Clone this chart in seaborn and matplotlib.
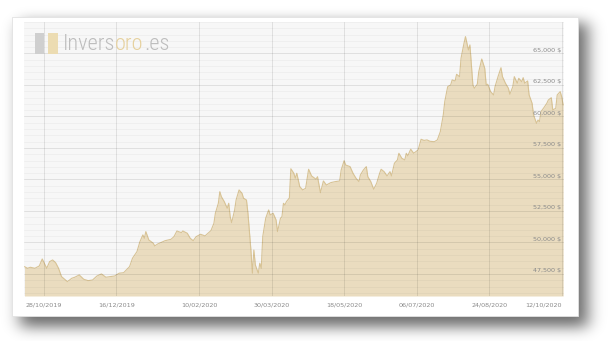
import math
import matplotlib
matplotlib.use("Agg")
import matplotlib.pyplot as plt
from matplotlib.patches import Rectangle
from matplotlib.ticker import MultipleLocator
from matplotlib import font_manager
from matplotlib.text import Annotation
import seaborn as sns
import pandas as pd
import numpy as np

# ---------------- data ----------------
dates = [
    "2019-10-15", "2019-10-17", "2019-10-19", "2019-10-22", "2019-10-25", "2019-10-27",
    "2019-10-30", "2019-11-01", "2019-11-03", "2019-11-05", "2019-11-07", "2019-11-09",
    "2019-11-13", "2019-11-16", "2019-11-18", "2019-11-21", "2019-11-24", "2019-11-27",
    "2019-11-30", "2019-12-03", "2019-12-06", "2019-12-09", "2019-12-12", "2019-12-15",
    "2019-12-18", "2019-12-21", "2019-12-25", "2019-12-27", "2019-12-30", "2020-01-01",
    "2020-01-03", "2020-01-04", "2020-01-05", "2020-01-07", "2020-01-10", "2020-01-11",
    "2020-01-13", "2020-01-15", "2020-01-18", "2020-01-22", "2020-01-24", "2020-01-26",
    "2020-01-29", "2020-01-30", "2020-02-02", "2020-02-04", "2020-02-06", "2020-02-08",
    "2020-02-11", "2020-02-14", "2020-02-16", "2020-02-18", "2020-02-20", "2020-02-21",
    "2020-02-23", "2020-02-24", "2020-02-25", "2020-02-27", "2020-02-29", "2020-03-01",
    "2020-03-02", "2020-03-03", "2020-03-05", "2020-03-06", "2020-03-08", "2020-03-10",
    "2020-03-11", "2020-03-13", "2020-03-14", "2020-03-15", "2020-03-16", "2020-03-17",
    "2020-03-18", "2020-03-19", "2020-03-21", "2020-03-22", "2020-03-23", "2020-03-24",
    "2020-03-26", "2020-03-28", "2020-03-29", "2020-03-31", "2020-04-02", "2020-04-03",
    "2020-04-05", "2020-04-06", "2020-04-07", "2020-04-08", "2020-04-09", "2020-04-11",
    "2020-04-12", "2020-04-14", "2020-04-15", "2020-04-16", "2020-04-18", "2020-04-20",
    "2020-04-22", "2020-04-24", "2020-04-26", "2020-04-29", "2020-04-30", "2020-05-02",
    "2020-05-04", "2020-05-06", "2020-05-09", "2020-05-12", "2020-05-15", "2020-05-16",
    "2020-05-18", "2020-05-19", "2020-05-22", "2020-05-24", "2020-05-26", "2020-05-28",
    "2020-05-29", "2020-05-31", "2020-06-02", "2020-06-03", "2020-06-05", "2020-06-07",
    "2020-06-09", "2020-06-11", "2020-06-12", "2020-06-14", "2020-06-16", "2020-06-18",
    "2020-06-19", "2020-06-21", "2020-06-23", "2020-06-24", "2020-06-26", "2020-06-28",
    "2020-06-29", "2020-06-30", "2020-07-02", "2020-07-04", "2020-07-07", "2020-07-09",
    "2020-07-11", "2020-07-13", "2020-07-15", "2020-07-18", "2020-07-20", "2020-07-22",
    "2020-07-24", "2020-07-25", "2020-07-27", "2020-07-29", "2020-07-30", "2020-08-01",
    "2020-08-02", "2020-08-04", "2020-08-05", "2020-08-07", "2020-08-08", "2020-08-09",
    "2020-08-10", "2020-08-11", "2020-08-13", "2020-08-14", "2020-08-16", "2020-08-17",
    "2020-08-19", "2020-08-21", "2020-08-22", "2020-08-23", "2020-08-25", "2020-08-27",
    "2020-08-28", "2020-08-30", "2020-09-01", "2020-09-02", "2020-09-04", "2020-09-06",
    "2020-09-07", "2020-09-09", "2020-09-10", "2020-09-12", "2020-09-13", "2020-09-15",
    "2020-09-16", "2020-09-17", "2020-09-19", "2020-09-20", "2020-09-22", "2020-09-23",
    "2020-09-25", "2020-09-26", "2020-09-27", "2020-09-28", "2020-09-30", "2020-10-02",
    "2020-10-03", "2020-10-05", "2020-10-06", "2020-10-08", "2020-10-09", "2020-10-11",
    "2020-10-12", "2020-10-13",
]
prices = [
    48080, 47950, 48030, 47950, 48135, 48690,
    47950, 48480, 48610, 48400, 47950, 47290,
    46890, 47160, 47240, 47420, 47080, 46970,
    47020, 47340, 47500, 47240, 47290, 47340,
    47560, 47600, 48080, 48750, 49270, 50060,
    50600, 50330, 50860, 50200, 49940, 49720,
    49880, 49980, 50140, 50250, 50460, 50910,
    50780, 50910, 50730, 50330, 50140, 50460,
    50650, 50520, 50730, 50940, 51520, 52320,
    53110, 54030, 53640, 53240, 52710, 53110,
    52050, 51570, 52580, 53370, 54170, 53900,
    53510, 53370, 52320, 50860, 49400, 47560,
    49400, 48210, 47560, 48350, 47950, 50460,
    51920, 52580, 52180, 52320, 51790, 50860,
    51920, 52050, 53110, 52980, 53240, 53530,
    55850, 55490, 55100, 55490, 54430, 54170,
    54300, 55810, 55280, 55020, 55220, 53950,
    54880, 54560, 54750, 54830, 54880, 55750,
    56490, 56150, 56020, 55490, 55100, 54830,
    55360, 55750, 56020, 55220, 54830, 54220,
    54700, 55490, 55810, 55620, 55280, 55620,
    55280, 56290, 56550, 57080, 56680, 56550,
    57080, 56870, 57400, 57080, 57340, 58190,
    58100, 58140, 58030, 58000, 58140, 58790,
    60120, 61180, 62370, 62500, 62900, 62820,
    63350, 63160, 64620, 65810, 66340, 65810,
    65280, 65680, 62500, 62240, 62560, 63560,
    64560, 63830, 62500, 62560, 61970, 61710,
    62370, 63160, 63870, 63160, 62640, 62240,
    61760, 62370, 63160, 62640, 63030, 62760,
    63080, 62640, 62820, 61710, 61050, 60120,
    59460, 59720, 59590, 60380, 60700, 61050,
    61310, 61490, 60520, 60650, 61710, 61970,
    61570, 60910,
]
tick_dates = ["2019-10-28", "2019-12-16", "2020-02-10", "2020-03-30",
              "2020-05-18", "2020-07-06", "2020-08-24", "2020-10-12"]
tick_labels = ["28/10/2019", "16/12/2019", "10/02/2020", "30/03/2020",
               "18/05/2020", "06/07/2020", "24/08/2020", "12/10/2020"]
y_ticks = [47500, 50000, 52500, 55000, 57500, 60000, 62500, 65000]
y_labels = ["47,500 $", "50,000 $", "52,500 $", "55,000 $",
            "57,500 $", "60,000 $", "62,500 $", "65,000 $"]
logo_parts = ["Invers", "oro", ".es"]

# ---------------- styling ----------------
sns.set_theme(style="white")
plt.rcParams["font.family"] = ["DejaVu Sans"]

available = {f.name for f in font_manager.fontManager.ttflist}
logo_font, logo_size = "DejaVu Sans", 12.5
for name, size in [("Roboto Condensed", 16), ("Liberation Sans Narrow", 15.5),
                   ("DejaVu Sans Condensed", 13.5)]:
    if name in available:
        logo_font, logo_size = name, size
        break

W, H = 608, 341
fig = plt.figure(figsize=(W / 100, H / 100), dpi=100, facecolor="white")


def px_box(x0, y0, x1, y1):
    return (x0 / W, 1 - y1 / H), (x1 - x0) / W, (y1 - y0) / H


# soft card shadow (blurred rectangle, offset right/down)
def soft_edge(n, a, b, sigma):
    s = sigma * math.sqrt(2)
    return np.array([0.5 * (math.erf((i + 0.5 - a) / s) - math.erf((i + 0.5 - b) / s))
                     for i in range(n)])


fx = soft_edge(W, 20, 588, 8.0)
fy = soft_edge(H, 23, 327, 7.0)
shadow = np.zeros((H, W, 4))
shadow[..., 3] = 0.58 * np.outer(fy, fx)
fig.figimage(shadow, xo=0, yo=0, origin="upper", zorder=-10)

xy, w, h = px_box(12, 17, 578, 316)
fig.add_artist(Rectangle(xy, w, h, transform=fig.transFigure,
                         facecolor="white", edgecolor="#e2e2e2",
                         linewidth=0.6, zorder=-5))

# plot area
ax = fig.add_axes([24 / W, 1 - 296 / H, 540 / W, 274 / H])
ax.set_facecolor("#f7f7f7")

df = pd.DataFrame({"date": pd.to_datetime(dates), "price": prices})
ymin, ymax = 45750, 67500
ax.fill_between(df["date"], df["price"], ymin, color="#eadcbf",
                linewidth=0, zorder=1)
sns.lineplot(data=df, x="date", y="price", ax=ax, color="#d8c395",
             linewidth=0.8, zorder=2)

ax.set_xlim(pd.Timestamp("2019-10-14 16:00"), pd.Timestamp("2020-10-13 14:00"))
ax.set_ylim(ymin, ymax)

ax.set_xticks(pd.to_datetime(tick_dates))
ax.set_xticklabels(tick_labels, fontsize=4.6, color="#8a8a8a")
ax.get_xticklabels()[-1].set_horizontalalignment("right")
ax.set_yticks(y_ticks)
ax.yaxis.set_minor_locator(MultipleLocator(500))
ax.tick_params(axis="both", which="both", length=0)
ax.tick_params(axis="x", pad=4.5)
ax.tick_params(axis="y", labelleft=False)
ax.set_xlabel("")
ax.set_ylabel("")
for s in ax.spines.values():
    s.set_visible(False)

ax.set_axisbelow(False)
ax.grid(which="major", axis="both", color="black", alpha=0.11, linewidth=0.6)
ax.grid(which="minor", axis="y", color="black", alpha=0.045, linewidth=0.5)

for v, lab in zip(y_ticks, y_labels):
    ax.annotate(lab, xy=(1, v), xycoords=("axes fraction", "data"),
                xytext=(-2.2, 0.6), textcoords="offset points",
                ha="right", va="bottom", fontsize=4.6, color="#8a8a8a",
                zorder=6)

# watermark logo
for (x0, x1), col in [((35, 44), "#cfcfcf"), ((48, 58), "#ecdcb2")]:
    xy, w, h = px_box(x0, 33, x1, 54)
    fig.add_artist(Rectangle(xy, w, h, transform=fig.transFigure,
                             facecolor=col, edgecolor="none", zorder=5))

logo_kw = dict(fontsize=logo_size, family=logo_font, fontweight="light", zorder=6)
t1 = fig.text(63 / W, 1 - 44 / H, logo_parts[0], ha="left", va="center",
              color="#bdbdbd", **logo_kw)
t2 = fig.add_artist(Annotation(logo_parts[1], xy=(1, 0), xycoords=t1,
                               ha="left", va="bottom", color="#e6d19e", **logo_kw))
t3 = fig.add_artist(Annotation(logo_parts[2], xy=(1, 0), xycoords=t2,
                               ha="left", va="bottom", color="#bdbdbd", **logo_kw))

fig.savefig("out.png", dpi=100, facecolor="white")
